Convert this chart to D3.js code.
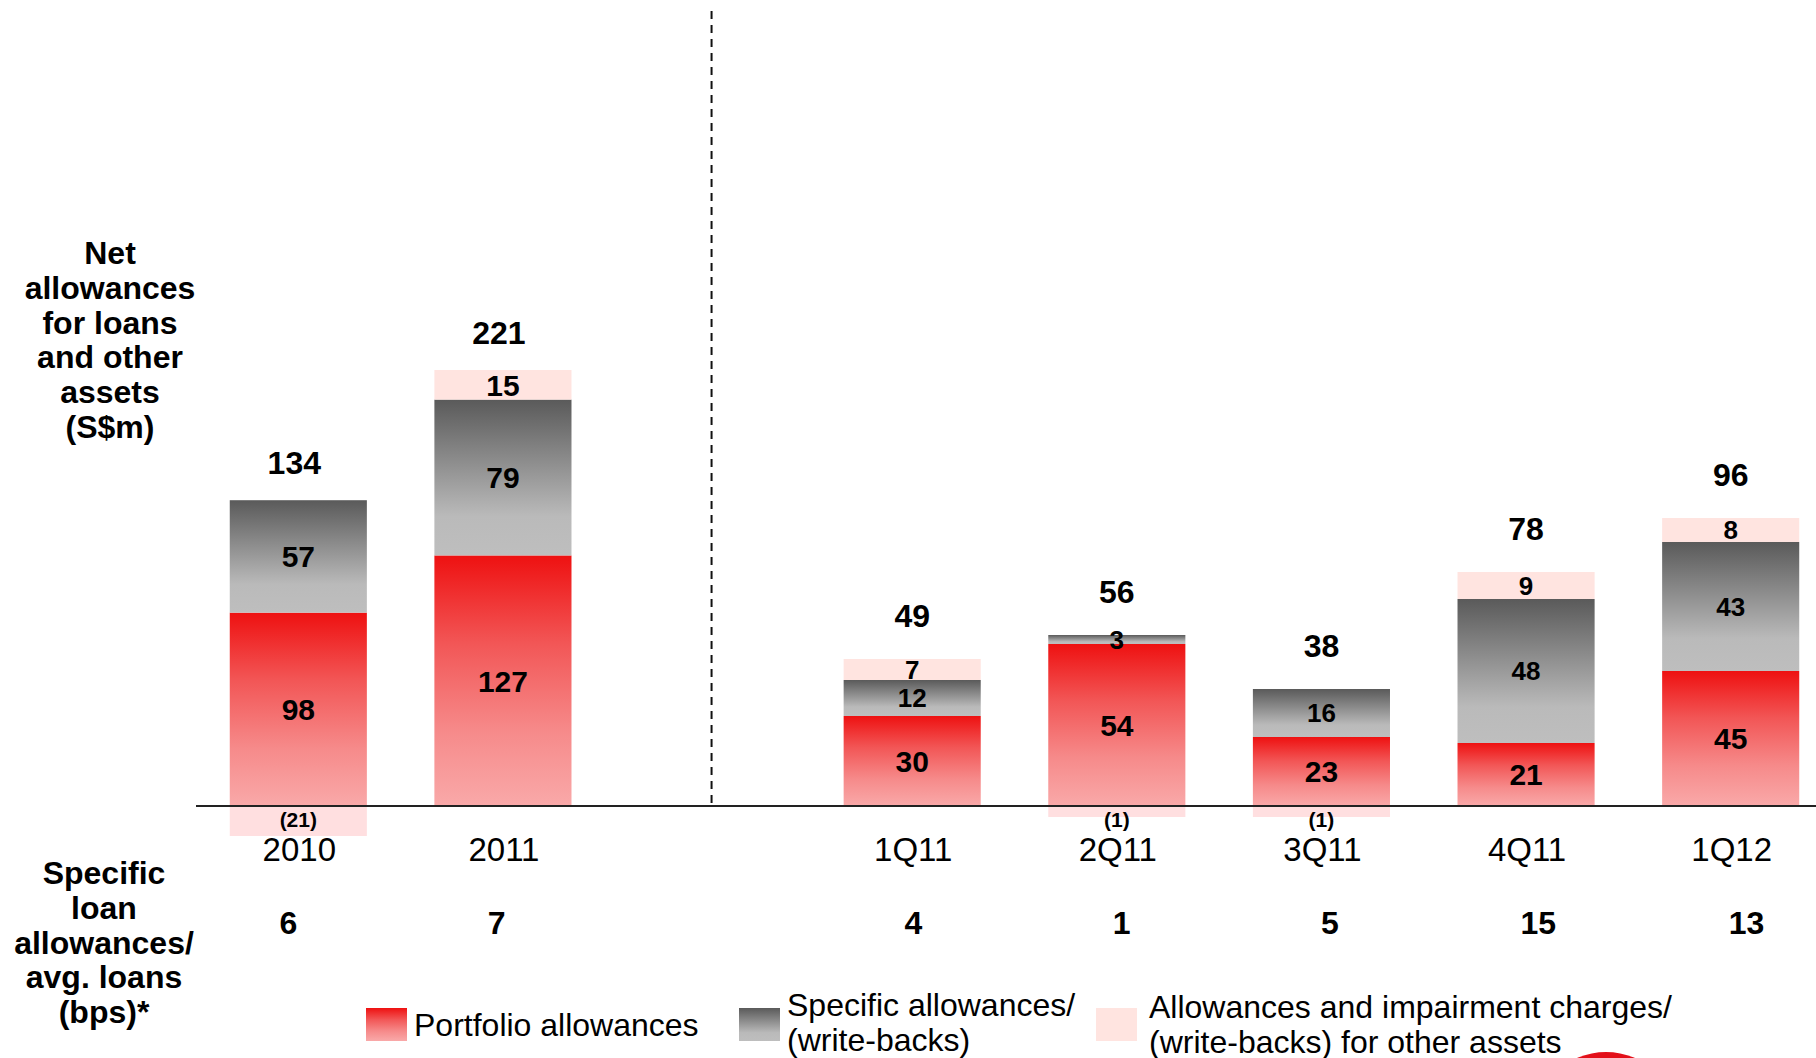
<!DOCTYPE html>
<html>
<head>
<meta charset="utf-8">
<script src="https://cdn.jsdelivr.net/npm/d3@7"></script>
<style>
  html, body { margin: 0; padding: 0; background: #ffffff; }
  svg { display: block; font-family: "Liberation Sans", Arial, Helvetica, sans-serif; }
</style>
</head>
<body>
<svg id="chart" width="1816" height="1058"></svg>
<script>
// ---- data ----
const categories = ["2010", "2011", "1Q11", "2Q11", "3Q11", "4Q11", "1Q12"];
const periodType = ["annual", "annual", "quarter", "quarter", "quarter", "quarter", "quarter"];
const portfolio = [98, 127, 30, 54, 23, 21, 45];
const specific = [57, 79, 12, 3, 16, 48, 43];
const otherAssets = [-21, 15, 7, -1, -1, 9, 8];
const totals = [134, 221, 49, 56, 38, 78, 96];
const bps = [6, 7, 4, 1, 5, 15, 13];
const slots = ["2010", "2011", "gap", "1Q11", "2Q11", "3Q11", "4Q11", "1Q12"];
const leftTitle = ["Net", "allowances", "for loans", "and other", "assets", "(S$m)"];
const bottomTitle = ["Specific", "loan", "allowances/", "avg. loans", "(bps)*"];
const legendItems = [
  { key: "portfolio", lines: ["Portfolio allowances"] },
  { key: "specific", lines: ["Specific allowances/", "(write-backs)"] },
  { key: "other", lines: ["Allowances and impairment charges/", "(write-backs) for other assets"] }
];

const W = 1816, H = 1058;
const baseY = 806;
const svg = d3.select("#chart");

// gradients
const defs = svg.append("defs");
const gRed = defs.append("linearGradient").attr("id", "gRed").attr("x1", 0).attr("y1", 0).attr("x2", 0).attr("y2", 1);
gRed.append("stop").attr("offset", "0%").attr("stop-color", "#EE1111");
gRed.append("stop").attr("offset", "35%").attr("stop-color", "#F25656");
gRed.append("stop").attr("offset", "70%").attr("stop-color", "#F68A8A");
gRed.append("stop").attr("offset", "100%").attr("stop-color", "#F9A9A9");
const gGray = defs.append("linearGradient").attr("id", "gGray").attr("x1", 0).attr("y1", 0).attr("x2", 0).attr("y2", 1);
gGray.append("stop").attr("offset", "0%").attr("stop-color", "#5A5A5A");
gGray.append("stop").attr("offset", "75%").attr("stop-color", "#BABABA");
gGray.append("stop").attr("offset", "100%").attr("stop-color", "#BEBEBE");
const fills = { portfolio: "url(#gRed)", specific: "url(#gGray)", other: "#FFE4E0" };
const negFill = "#FFDFE0";

// scales
const x = d3.scaleBand().domain(slots).range([196, 1833]).paddingInner(0.33).paddingOuter(0.165);
const xBps = d3.scalePoint().domain(slots).range([288.4, 1746.5]);
const yAnnual = d3.scaleLinear().domain([0, 221]).range([baseY, 370]);
const yQuarter = d3.scaleLinear().domain([0, 96]).range([baseY, 518]);
const negH = d3.scaleLinear().domain([1, 21]).range([11, 30]);

const bars = categories.map((c, i) => ({
  cat: c, annual: periodType[i] === "annual",
  y: periodType[i] === "annual" ? yAnnual : yQuarter,
  segs: [
    { key: "portfolio", v: portfolio[i] },
    { key: "specific", v: specific[i] },
    { key: "other", v: otherAssets[i] }
  ],
  total: totals[i], bps: bps[i]
}));

const g = svg.append("g");
bars.forEach(b => {
  const x0 = x(b.cat), bw = x.bandwidth(), cx = x0 + bw / 2;
  let acc = 0;
  let topY = baseY;
  b.segs.forEach(s => {
    if (s.v >= 0) {
      const yTop = b.y(acc + s.v), yBot = b.y(acc);
      acc += s.v;
      topY = yTop;
      g.append("rect").attr("x", x0).attr("y", yTop).attr("width", bw).attr("height", yBot - yTop)
        .attr("fill", fills[s.key]);
      const fs = (s.key === "portfolio" || b.annual) ? 30 : 26;
      g.append("text").attr("x", cx).attr("y", (yTop + yBot) / 2).attr("dy", "0.36em")
        .attr("text-anchor", "middle").attr("font-weight", "bold").attr("font-size", fs)
        .attr("fill", "#000").text(s.v);
    } else {
      const h = negH(-s.v);
      g.append("rect").attr("x", x0).attr("y", baseY).attr("width", bw).attr("height", h)
        .attr("fill", negFill);
      g.append("text").attr("x", cx).attr("y", baseY + 13).attr("dy", "0.36em")
        .attr("text-anchor", "middle").attr("font-weight", "bold").attr("font-size", 21)
        .attr("fill", "#000").text("(" + (-s.v) + ")");
    }
  });
  // total
  g.append("text").attr("x", cx - (b.annual ? 4 : 0)).attr("y", topY - (b.annual ? 26 : 32))
    .attr("text-anchor", "middle").attr("font-weight", "bold").attr("font-size", 32)
    .attr("fill", "#000").text(b.total);
  // category label
  g.append("text").attr("x", cx + 1).attr("y", 861)
    .attr("text-anchor", "middle").attr("font-size", 33).attr("fill", "#000").text(b.cat);
  // bps
  g.append("text").attr("x", xBps(b.cat)).attr("y", 934)
    .attr("text-anchor", "middle").attr("font-weight", "bold").attr("font-size", 32)
    .attr("fill", "#000").text(b.bps);
});

// baseline
svg.append("line").attr("x1", x.range()[0]).attr("x2", W).attr("y1", baseY).attr("y2", baseY)
  .attr("stroke", "#222").attr("stroke-width", 2.2);

// dashed divider
const divX = x("gap") + x.bandwidth() / 2 + 4;
svg.append("line").attr("x1", divX).attr("x2", divX).attr("y1", 11).attr("y2", baseY)
  .attr("stroke", "#111").attr("stroke-width", 2).attr("stroke-dasharray", "8,6");

// left titles
const lt = svg.append("text").attr("text-anchor", "middle").attr("font-weight", "bold")
  .attr("font-size", 32).attr("fill", "#000");
leftTitle.forEach((t, i) => lt.append("tspan").attr("x", 110).attr("y", 264 + i * 34.8).text(t));
const bt = svg.append("text").attr("text-anchor", "middle").attr("font-weight", "bold")
  .attr("font-size", 32).attr("fill", "#000");
bottomTitle.forEach((t, i) => bt.append("tspan").attr("x", 104).attr("y", 884 + i * 34.8).text(t));

// legend
const legendX = [366, 739, 1096];
legendItems.forEach((it, i) => {
  svg.append("rect").attr("x", legendX[i]).attr("y", 1008).attr("width", 41).attr("height", 33)
    .attr("fill", fills[it.key]);
  const t = svg.append("text").attr("font-size", 32).attr("fill", "#000");
  const ys = it.lines.length === 1 ? [1036] : (i === 1 ? [1016, 1051] : [1018, 1053]);
  it.lines.forEach((l, j) => t.append("tspan").attr("x", legendX[i] + 48 + (i === 2 ? 5 : 0)).attr("y", ys[j]).text(l));
});

// partial logo at bottom
svg.append("circle").attr("cx", 1606).attr("cy", 1125).attr("r", 73).attr("fill", "#E3101A");
</script>
</body>
</html>
